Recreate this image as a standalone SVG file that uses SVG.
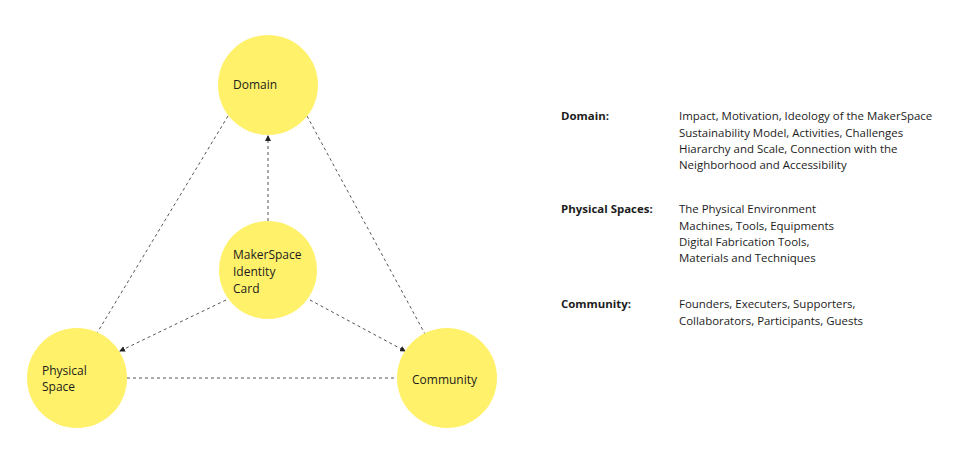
<svg xmlns="http://www.w3.org/2000/svg" width="964" height="455" viewBox="0 0 964 455">
<style>
.node{fill:#fff16a}
.t{font-family:"Open Sans","Liberation Sans",sans-serif;font-size:12px;fill:#1c1c1c}
.l{font-size:11.45px}
.b{font-weight:bold}
.c{stroke:#555;stroke-width:1;stroke-dasharray:3,3;fill:none}
</style>
<defs>
<marker id="ah" viewBox="0 0 6 6" refX="5" refY="3" markerWidth="6" markerHeight="6" orient="auto" markerUnits="userSpaceOnUse">
<path d="M0,0 L6,3 L0,6 z" fill="#222"/>
</marker>
</defs>
<rect width="964" height="455" fill="#fff"/>
<g id="connectors">
<line class="c" x1="228" y1="116" x2="97" y2="333"/>
<line class="c" x1="307" y1="116" x2="425" y2="334"/>
<line class="c" x1="268" y1="221" x2="268" y2="136" marker-end="url(#ah)"/>
<line class="c" x1="226" y1="300" x2="120" y2="351" marker-end="url(#ah)"/>
<line class="c" x1="310" y1="300" x2="405" y2="351" marker-end="url(#ah)"/>
<line class="c" x1="127" y1="378" x2="397" y2="378"/>
</g>
<g id="domain">
<circle class="node" cx="268" cy="85" r="50"/>
<text class="t" x="233" y="89">Domain</text>
</g>
<g id="identity">
<circle class="node" cx="268" cy="270" r="49"/>
<text class="t" x="233" y="259">MakerSpace</text>
<text class="t" x="233" y="276">Identity</text>
<text class="t" x="233" y="293">Card</text>
</g>
<g id="physical">
<circle class="node" cx="77" cy="378" r="50"/>
<text class="t" x="42" y="375">Physical</text>
<text class="t" x="42" y="391">Space</text>
</g>
<g id="community">
<circle class="node" cx="447" cy="378" r="50"/>
<text class="t" x="412" y="384">Community</text>
</g>
<g id="legend">
<text class="t l b" x="561" y="120">Domain:</text>
<text class="t l" x="679" y="120">Impact, Motivation, Ideology of the MakerSpace</text>
<text class="t l" x="679" y="137">Sustainability Model, Activities, Challenges</text>
<text class="t l" x="679" y="153">Hiararchy and Scale, Connection with the</text>
<text class="t l" x="679" y="169">Neighborhood and Accessibility</text>
<text class="t l b" x="561" y="213">Physical Spaces:</text>
<text class="t l" x="679" y="213">The Physical Environment</text>
<text class="t l" x="679" y="230">Machines, Tools, Equipments</text>
<text class="t l" x="679" y="246">Digital Fabrication Tools,</text>
<text class="t l" x="679" y="262">Materials and Techniques</text>
<text class="t l b" x="561" y="308">Community:</text>
<text class="t l" x="679" y="308">Founders, Executers, Supporters,</text>
<text class="t l" x="679" y="325">Collaborators, Participants, Guests</text>
</g>
</svg>
